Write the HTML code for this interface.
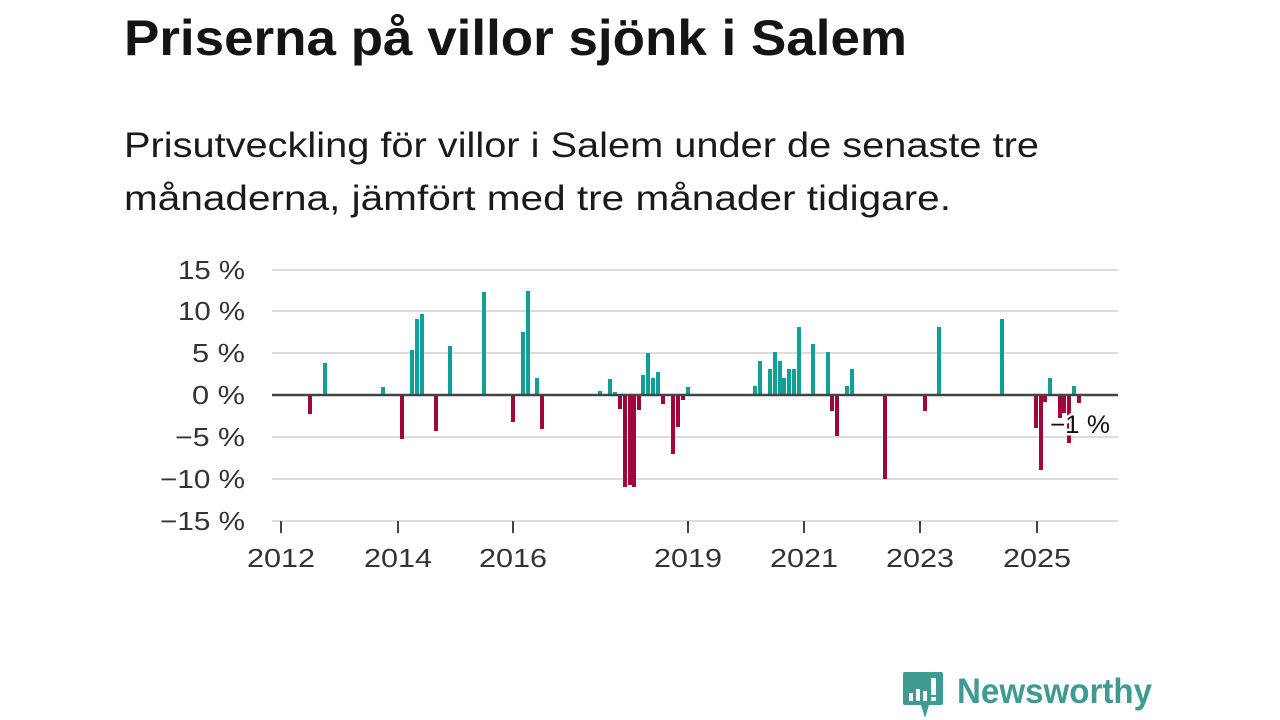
<!DOCTYPE html>
<html><head><meta charset="utf-8"><style>
html,body{margin:0;padding:0;background:#fff;}
svg{display:block;font-family:"Liberation Sans",sans-serif;}
</style></head><body>
<svg width="1280" height="720" viewBox="0 0 1280 720" xmlns="http://www.w3.org/2000/svg">
<text x="124" y="55" font-size="50" font-weight="bold" fill="#141414" textLength="783" lengthAdjust="spacingAndGlyphs">Priserna på villor sjönk i Salem</text>
<text x="124" y="157" font-size="35" fill="#1a1a1a" textLength="915" lengthAdjust="spacingAndGlyphs">Prisutveckling för villor i Salem under de senaste tre</text>
<text x="124" y="210" font-size="35" fill="#1a1a1a" textLength="827" lengthAdjust="spacingAndGlyphs">månaderna, jämfört med tre månader tidigare.</text>
<g stroke="#dcdcdc" stroke-width="2">
<line x1="272" x2="1118" y1="270" y2="270"/><line x1="272" x2="1118" y1="311" y2="311"/><line x1="272" x2="1118" y1="353" y2="353"/><line x1="272" x2="1118" y1="437" y2="437"/><line x1="272" x2="1118" y1="479" y2="479"/><line x1="272" x2="1118" y1="521" y2="521"/>
</g>
<g font-size="26" fill="#333" text-anchor="end">
<text x="245" y="279" textLength="67" lengthAdjust="spacingAndGlyphs">15 %</text><text x="245" y="320" textLength="67" lengthAdjust="spacingAndGlyphs">10 %</text><text x="245" y="362" textLength="53" lengthAdjust="spacingAndGlyphs">5 %</text><text x="245" y="404" textLength="53" lengthAdjust="spacingAndGlyphs">0 %</text><text x="245" y="446" textLength="70" lengthAdjust="spacingAndGlyphs">−5 %</text><text x="245" y="488" textLength="85" lengthAdjust="spacingAndGlyphs">−10 %</text><text x="245" y="530" textLength="85" lengthAdjust="spacingAndGlyphs">−15 %</text>
</g>
<g fill="#0fa196">
<rect x="323" y="363" width="4" height="32"/><rect x="381" y="387" width="4" height="8"/><rect x="410" y="350" width="4" height="45"/><rect x="415" y="319" width="4" height="76"/><rect x="420" y="314" width="4" height="81"/><rect x="448" y="346" width="4" height="49"/><rect x="482" y="292" width="4" height="103"/><rect x="521" y="332" width="4" height="63"/><rect x="526" y="291" width="4" height="104"/><rect x="535" y="378" width="4" height="17"/>
<rect x="598" y="391" width="4" height="4"/><rect x="608" y="379" width="4" height="16"/><rect x="613" y="392" width="4" height="3"/><rect x="641" y="375" width="4" height="20"/><rect x="646" y="353" width="4" height="42"/><rect x="651" y="378" width="4" height="17"/><rect x="656" y="372" width="4" height="23"/><rect x="686" y="387" width="4" height="8"/>
<rect x="753" y="386" width="4" height="9"/><rect x="758" y="361" width="4" height="34"/><rect x="768" y="369" width="4" height="26"/><rect x="773" y="352" width="4" height="43"/><rect x="778" y="361" width="4" height="34"/><rect x="782" y="378" width="4" height="17"/><rect x="787" y="369" width="4" height="26"/><rect x="792" y="369" width="4" height="26"/><rect x="797" y="327" width="4" height="68"/><rect x="811" y="344" width="4" height="51"/><rect x="826" y="352" width="4" height="43"/><rect x="845" y="386" width="4" height="9"/><rect x="850" y="369" width="4" height="26"/>
<rect x="937" y="327" width="4" height="68"/><rect x="1000" y="319" width="4" height="76"/><rect x="1048" y="378" width="4" height="17"/><rect x="1072" y="386" width="4" height="9"/>
</g>
<g fill="#a0063a">
<rect x="308" y="395" width="4" height="19"/><rect x="400" y="395" width="4" height="44"/><rect x="434" y="395" width="4" height="36"/><rect x="511" y="395" width="4" height="27"/><rect x="540" y="395" width="4" height="34"/>
<rect x="618" y="395" width="4" height="14"/><rect x="623" y="395" width="4" height="92"/><rect x="628" y="395" width="4" height="90"/><rect x="632" y="395" width="4" height="92"/><rect x="637" y="395" width="4" height="15"/><rect x="661" y="395" width="4" height="9"/><rect x="671" y="395" width="4" height="59"/><rect x="676" y="395" width="4" height="32"/><rect x="681" y="395" width="4" height="5"/>
<rect x="830" y="395" width="4" height="16"/><rect x="835" y="395" width="4" height="41"/><rect x="883" y="395" width="4" height="84"/><rect x="923" y="395" width="4" height="16"/>
<rect x="1034" y="395" width="4" height="33"/><rect x="1039" y="395" width="4" height="75"/><rect x="1043" y="395" width="4" height="7"/><rect x="1058" y="395" width="4" height="23"/><rect x="1062" y="395" width="4" height="18"/><rect x="1067" y="395" width="4" height="48"/><rect x="1077" y="395" width="4" height="8"/>
</g>
<line x1="272" x2="1118" y1="395" y2="395" stroke="#444" stroke-width="2.5"/>
<text x="1080" y="433" font-size="25" fill="#111" text-anchor="middle" stroke="#fff" stroke-width="5" paint-order="stroke" textLength="60" lengthAdjust="spacingAndGlyphs">−1 %</text>
<g stroke="#444" stroke-width="2">
<line x1="281" x2="281" y1="521" y2="533"/><line x1="398" x2="398" y1="521" y2="533"/><line x1="513" x2="513" y1="521" y2="533"/><line x1="688" x2="688" y1="521" y2="533"/><line x1="804" x2="804" y1="521" y2="533"/><line x1="920" x2="920" y1="521" y2="533"/><line x1="1037" x2="1037" y1="521" y2="533"/>
</g>
<g font-size="26" fill="#333" text-anchor="middle">
<text x="281" y="567" textLength="68" lengthAdjust="spacingAndGlyphs">2012</text><text x="398" y="567" textLength="68" lengthAdjust="spacingAndGlyphs">2014</text><text x="513" y="567" textLength="68" lengthAdjust="spacingAndGlyphs">2016</text><text x="688" y="567" textLength="68" lengthAdjust="spacingAndGlyphs">2019</text><text x="804" y="567" textLength="68" lengthAdjust="spacingAndGlyphs">2021</text><text x="920" y="567" textLength="68" lengthAdjust="spacingAndGlyphs">2023</text><text x="1037" y="567" textLength="68" lengthAdjust="spacingAndGlyphs">2025</text>
</g>
<g fill="#3d9b92">
<path d="M905 672 h36 a2 2 0 0 1 2 2 v29 a2 2 0 0 1 -2 2 h-12 l-4 13 l-4 -13 h-16 a2 2 0 0 1 -2 -2 v-29 a2 2 0 0 1 2 -2z"/>
<text x="957" y="703" font-size="35" font-weight="bold" textLength="195" lengthAdjust="spacingAndGlyphs">Newsworthy</text>
</g>
<g fill="#fff">
<rect x="909" y="693" width="4" height="8"/><rect x="916" y="689" width="4" height="12"/><rect x="923" y="691" width="4" height="10"/><rect x="931" y="678" width="5" height="17"/><rect x="931" y="697" width="5" height="4"/>
</g>
</svg>
</body></html>
